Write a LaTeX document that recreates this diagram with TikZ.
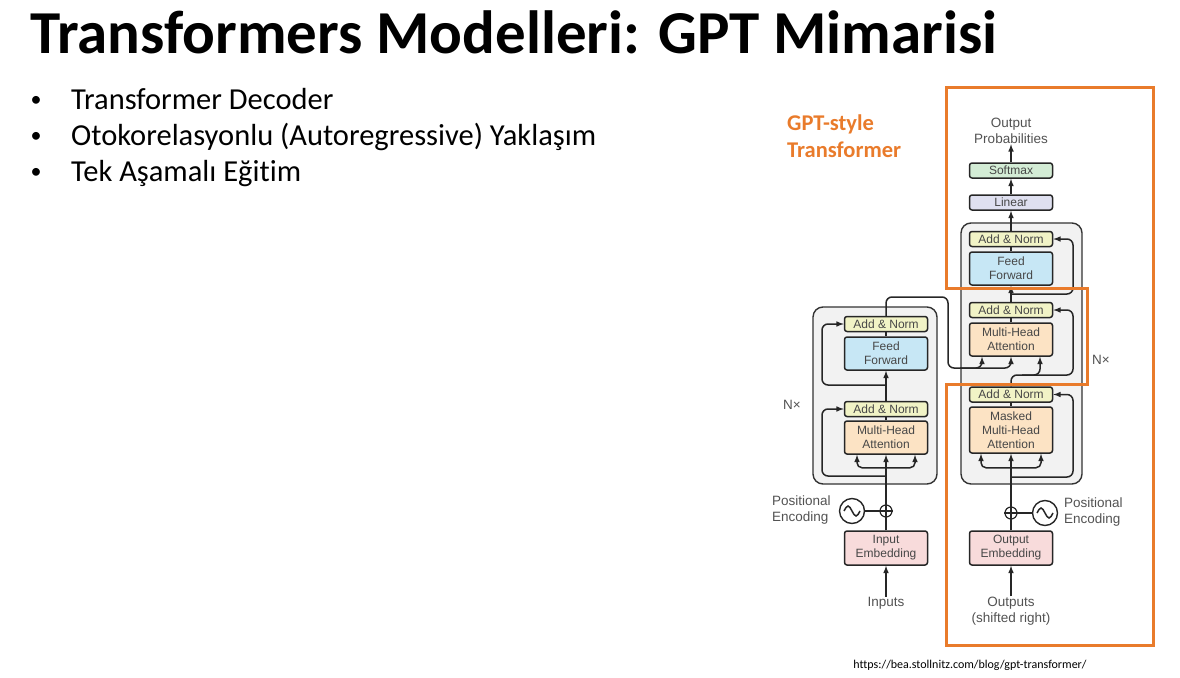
\documentclass[tikz,border=0pt]{standalone}
\usepackage{fontspec}
\setmainfont{Carlito}[Ligatures=NoCommon]
\newfontfamily\diagfont{Liberation Sans}
\usepackage{xcolor}
\usetikzlibrary{arrows}
\usetikzlibrary{calc}

\definecolor{gptorange}{HTML}{E97B2B}
\definecolor{normfill}{HTML}{F1F3C6}
\definecolor{fffill}{HTML}{C7E7F5}
\definecolor{attfill}{HTML}{FCE3C4}
\definecolor{softfill}{HTML}{D3ECD5}
\definecolor{linfill}{HTML}{DFE0F0}
\definecolor{embfill}{HTML}{F8DBDB}

\tikzset{
    layer/.style={draw=black!85, line width=1.5pt, rounded corners=2.5pt,
        minimum width=83pt, inner sep=0pt, align=center, text=black!72,
        font=\diagfont\fontsize{12}{14}\selectfont},
    addnorm/.style={layer, fill=normfill, minimum height=15pt},
    ffbox/.style={layer, fill=fffill, minimum height=33pt},
    attbox/.style={layer, fill=attfill, minimum height=33pt},
    embbox/.style={layer, fill=embfill, minimum height=34pt},
    stack/.style={draw=black!80, fill=black!5, line width=1.4pt, rounded corners=10pt},
    wire/.style={line width=1.5pt, draw=black!85},
    feed/.style={wire, ->, >=latex},
    plusnode/.style={circle, draw=black!85, line width=1.2pt, minimum size=12pt, inner sep=0pt},
    sinenode/.style={circle, draw=black!85, line width=1.4pt, minimum size=25pt, inner sep=0pt},
    caption/.style={font=\diagfont\fontsize{13.5}{16.5}\selectfont, text=black!68, align=center, inner sep=0pt},
    bullettext/.style={anchor=base west, inner sep=0pt, font=\fontsize{30.5}{30.5}\selectfont},
    bulletdot/.style={anchor=base, inner sep=0pt, font=\fontsize{22}{22}\selectfont}
}

\begin{document}
\begin{tikzpicture}[x=1pt, y=-1pt]
        \useasboundingbox (0, 0) rectangle (1180, 677);

        % slide text
        \node[anchor=base west, inner sep=0pt, font=\bfseries\fontsize{61}{61}\selectfont] (title)
            at (30, 53) {Transformers Modelleri: GPT Mimarisi};
        \node[bulletdot] (b1) at (36, 106) {\textbullet};
        \node[bullettext] (t1) at (71, 109) {Transformer Decoder};
        \node[bulletdot] (b2) at (36, 142) {\textbullet};
        \node[bullettext] (t2) at (71, 145) {Otokorelasyonlu (Autoregressive) Yaklaşım};
        \node[bulletdot] (b3) at (36, 178) {\textbullet};
        \node[bullettext] (t3) at (71, 181) {Tek Aşamalı Eğitim};

        \node[anchor=west, align=left, inner sep=0pt, text=gptorange, font=\bfseries\fontsize{22.5}{27}\selectfont] (gpt)
            at (787, 136) {GPT-style\\Transformer};
        \node[inner sep=0pt, font=\fontsize{12}{12}\selectfont] (url) at (970, 665) {https://bea.stollnitz.com/blog/gpt-transformer/};

        % stacks
        \draw[stack] (813, 307) rectangle (937, 484);
        \draw[stack] (961, 223) rectangle (1082, 484);

        % encoder
        \node[addnorm] (ean1) at (886, 324) {Add \& Norm};
        \node[ffbox] (eff) at (886, 353.5) {Feed\\Forward};
        \node[addnorm] (ean2) at (886, 409) {Add \& Norm};
        \node[attbox] (emha) at (886, 437.5) {Multi-Head\\Attention};
        \node[plusnode] (eplus) at (886, 511) {};
        \node[sinenode] (esine) at (852, 511) {};
        \node[embbox] (eemb) at (886, 548) {Input\\Embedding};
        \node[caption] (einputs) at (886, 603) {Inputs};
        \node[caption, anchor=west, align=left] (epos) at (772, 510) {Positional\\Encoding};
        \node[caption] (enx) at (792, 405) {N×};

        % decoder
        \node[layer, fill=softfill, minimum height=15pt] (dsoft) at (1011, 170.5) {Softmax};
        \node[layer, fill=linfill, minimum height=15pt] (dlin) at (1011, 202.5) {Linear};
        \node[addnorm] (dan1) at (1011, 239) {Add \& Norm};
        \node[ffbox] (dff) at (1011, 268.5) {Feed\\Forward};
        \node[addnorm] (dan2) at (1011, 310) {Add \& Norm};
        \node[attbox] (dmha) at (1011, 339.5) {Multi-Head\\Attention};
        \node[addnorm] (dan3) at (1011, 394.5) {Add \& Norm};
        \node[attbox, minimum height=46pt] (dmmha) at (1011, 430) {Masked\\Multi-Head\\Attention};
        \node[plusnode] (dplus) at (1011, 513) {};
        \node[sinenode] (dsine) at (1045, 513) {};
        \node[embbox] (doemb) at (1011, 548) {Output\\Embedding};
        \node[caption] (doutputs) at (1011, 611) {Outputs\\(shifted right)};
        \node[caption] (dprob) at (1011, 131) {Output\\Probabilities};
        \node[caption, anchor=west, align=left] (dpos) at (1064, 512) {Positional\\Encoding};
        \node[caption] (dnx) at (1101, 360) {N×};

        % branch points
        \coordinate (eres1) at (886, 476);
        \coordinate (eres2) at (886, 385);
        \coordinate (encout) at (948, 368);
        \coordinate (dres1) at (1011, 477);
        \coordinate (dres2) at (1011, 294);

        % encoder wires
        \draw[feed] (einputs.north) -- (eemb.south);
        \draw[wire] (eemb.north) -- (eplus.south);
        \draw[wire, line width=1.2pt] (eplus.west) -- (eplus.east) (eplus.north) -- (eplus.south);
        \draw[wire] (esine.east) -- (eplus.west);
        \draw[wire] ($(esine)+(-8, 0)$) sin ++(4, -5) cos ++(4, 5) sin ++(4, 5) cos ++(4, -5);
        \draw[feed] (eplus.north) -- (emha.south);
        \draw[<->, wire, >=latex, rounded corners=5pt] ([xshift=-29pt]emha.south) -- ++(0, 13) -| ([xshift=29pt]emha.south);
        \draw[feed, rounded corners=6pt] (eres1) -- (822, 476) |- (ean2.west);
        \draw[wire] (emha.north) -- (ean2.south);
        \draw[feed] (ean2.north) -- (eff.south);
        \draw[feed, rounded corners=6pt] (eres2) -- (822, 385) |- (ean1.west);
        \draw[wire] (eff.north) -- (ean1.south);
        \draw[feed, rounded corners=6pt] (ean1.north) |- (948, 297) -- (encout) -| ([xshift=-29pt]dmha.south);
        \draw[feed, rounded corners=6pt] (960, 368) -| (dmha.south);

        % decoder wires
        \draw[feed] (doutputs.north) -- (doemb.south);
        \draw[wire] (doemb.north) -- (dplus.south);
        \draw[wire, line width=1.2pt] (dplus.west) -- (dplus.east) (dplus.north) -- (dplus.south);
        \draw[wire] (dsine.west) -- (dplus.east);
        \draw[wire] ($(dsine)+(-8, 0)$) sin ++(4, -5) cos ++(4, 5) sin ++(4, 5) cos ++(4, -5);
        \draw[feed] (dplus.north) -- (dmmha.south);
        \draw[<->, wire, >=latex, rounded corners=5pt] ([xshift=-30pt]dmmha.south) -- ++(0, 14) -| ([xshift=30pt]dmmha.south);
        \draw[feed, rounded corners=6pt] (dres1) -- (1073, 477) |- (dan3.east);
        \draw[wire] (dmmha.north) -- (dan3.south);
        \draw[feed, rounded corners=6pt] (dan3.north) |- (1073, 375) |- (dan2.east);
        \draw[feed, rounded corners=6pt] (1022, 375) -| ([xshift=29pt]dmha.south);
        \draw[wire] (dmha.north) -- (dan2.south);
        \draw[feed] (dan2.north) -- (dff.south);
        \draw[feed, rounded corners=6pt] (dres2) -- (1073, 294) |- (dan1.east);
        \draw[wire] (dff.north) -- (dan1.south);
        \draw[feed] (dan1.north) -- (dlin.south);
        \draw[feed] (dlin.north) -- (dsoft.south);
        \draw[feed] (dsoft.north) -- (dprob.south);

        % GPT part
        \draw[gptorange, line width=3pt] (946, 87) -- (1153, 87) -- (1153, 645) -- (946, 645)
            -- (946, 384) -- (1087, 384) -- (1087, 288) -- (946, 288) -- cycle;
\end{tikzpicture}
\end{document}
